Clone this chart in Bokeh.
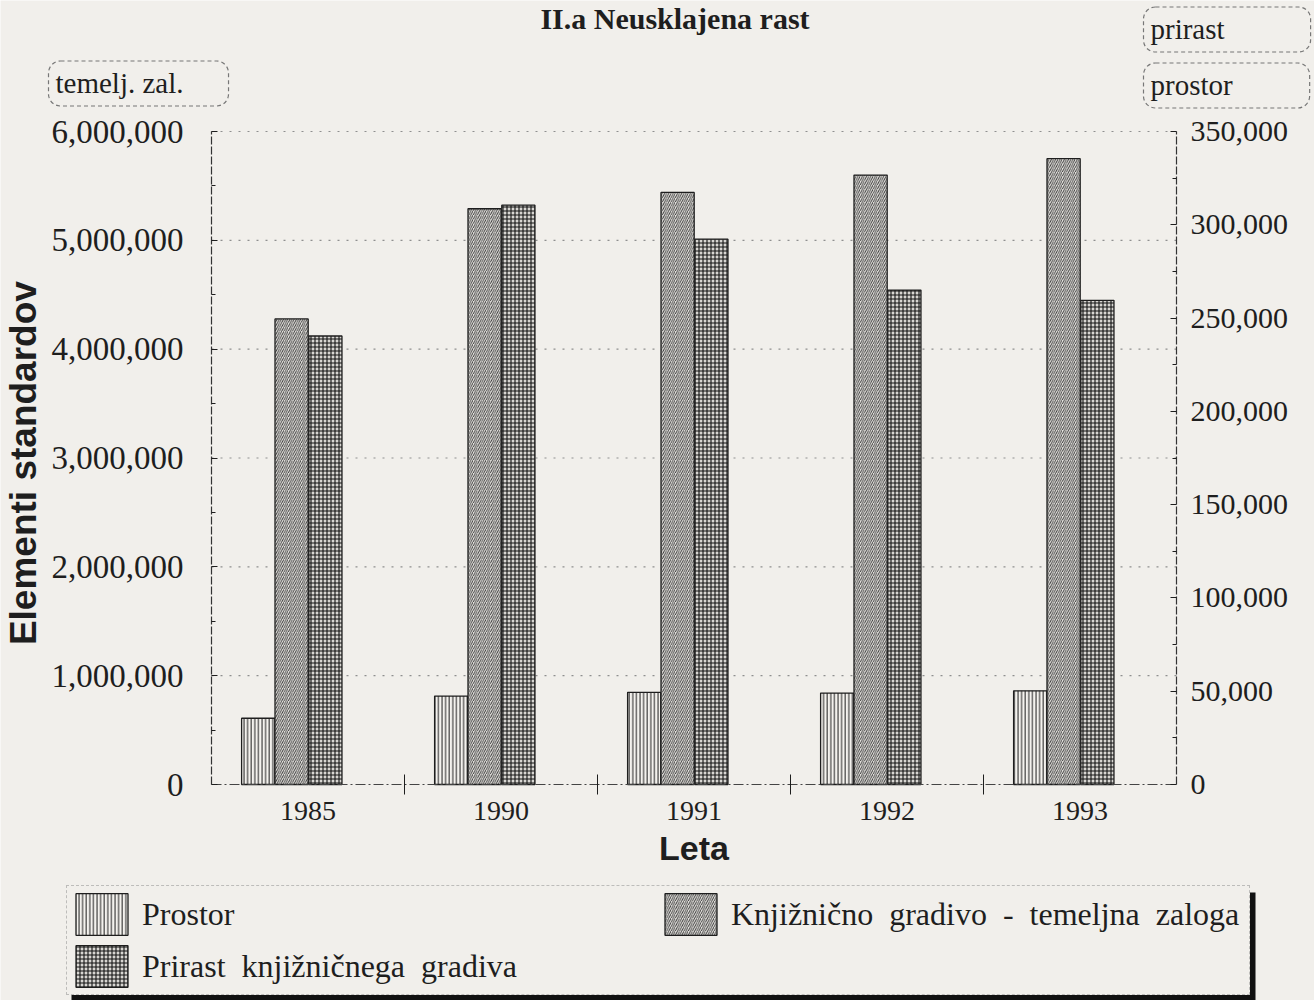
from bokeh.plotting import figure
from bokeh.models import (Range1d, LinearAxis, FixedTicker, ColumnDataSource, BoxAnnotation,
                          Legend, LegendItem, Label, NumeralTickFormatter)
from bokeh.transform import dodge
from bokeh.embed import file_html
from bokeh.resources import INLINE

# ---- data ----
years = ["1985", "1990", "1991", "1992", "1993"]
prostor = [35500, 47400, 49400, 49000, 50200]                    # right axis
temeljna_zaloga = [4278000, 5290000, 5440000, 5600000, 5750000]  # left axis
prirast = [240400, 310500, 292300, 265000, 259500]               # right axis

left_ticks = [0, 1000000, 2000000, 3000000, 4000000, 5000000, 6000000]
right_ticks = [0, 50000, 100000, 150000, 200000, 250000, 300000, 350000]

title_text = "II.a  Neusklajena  rast"
series_names = ["Prostor", "Knjižnično  gradivo  -  temeljna  zaloga", "Prirast  knjižničnega  gradiva"]

PAPER = "#f1efeb"
INK = "#1e1e1e"
SERIF = "Liberation Serif"
SANS = "Liberation Sans"

# ---- page geometry: the frame fills the page; the plotting area sits inside it ----
W, H = 1314, 1000
PX_L, PX_R, PX_T, PX_B = 211, 1176, 131, 784
ncat = len(years)
upx = (PX_R - PX_L) / ncat
ymax = left_ticks[-1]
rmax = right_ticks[-1]
ypp = (PX_B - PX_T) / ymax
rpp = (PX_B - PX_T) / rmax

xpos = [i + 0.5 for i in range(ncat)]
src = ColumnDataSource(dict(x=xpos, year=years, prostor=prostor, zaloga=temeljna_zaloga, prirast=prirast))
grid_src = ColumnDataSource(dict(y=left_ticks[1:], x0=[0] * (len(left_ticks) - 1),
                                 x1=[ncat] * (len(left_ticks) - 1)))

p = figure(width=W, height=H, output_backend="svg", toolbar_location=None,
           x_range=Range1d(-PX_L / upx, ncat + (W - PX_R) / upx),
           y_range=Range1d(-(H - PX_B) / ypp, ymax + PX_T / ypp),
           min_border=0, background_fill_color=PAPER, border_fill_color=PAPER,
           outline_line_color=None)
p.extra_y_ranges = {"right": Range1d(-(H - PX_B) / rpp, rmax + PX_T / rpp)}
p.xgrid.grid_line_color = None
p.ygrid.grid_line_color = None

# dotted grid lines at the left-axis ticks
p.segment(x0="x0", x1="x1", y0="y", y1="y", source=grid_src,
          line_color="#8f8f8f", line_dash="2 7", line_width=1.1)

bw = 0.172
r1 = p.vbar(x=dodge("x", -0.258, range=p.x_range), top="prostor", width=bw, source=src,
            y_range_name="right", fill_color="#f4f2ee", line_color=INK, line_width=1.3,
            hatch_pattern="vertical_line", hatch_color=INK, hatch_scale=3.6, hatch_weight=1.0)
r2 = p.vbar(x=dodge("x", -0.085, range=p.x_range), top="zaloga", width=bw, source=src,
            fill_color="#e9e7e3", line_color=INK, line_width=1.3,
            hatch_pattern="right_diagonal_line", hatch_color="#363636", hatch_scale=4.3, hatch_weight=0.9)
r3 = p.vbar(x=dodge("x", 0.09, range=p.x_range), top="prirast", width=bw, source=src,
            y_range_name="right", fill_color="#d8d6d2", line_color=INK, line_width=1.3,
            hatch_pattern="cross", hatch_color="#121212", hatch_scale=4.0, hatch_weight=1.1)

# ---- x axis (fixed at the zero line) ----
xa = p.xaxis[0]
xa.fixed_location = 0
xa.bounds = (0, ncat)
xa.ticker = FixedTicker(ticks=xpos, minor_ticks=[i for i in range(1, ncat)])
xa.major_label_overrides = {x: y for x, y in zip(xpos, years)}
xa.major_tick_line_color = None
xa.major_tick_in = 0
xa.major_tick_out = 0
xa.minor_tick_line_color = INK
xa.minor_tick_in = 10
xa.minor_tick_out = 10
xa.axis_line_color = "#444"
xa.axis_line_dash = "10 3 2 3"
xa.axis_line_width = 1.2
xa.major_label_text_font = SERIF
xa.major_label_text_font_size = "28px"
xa.major_label_text_color = INK
xa.major_label_standoff = 7
xa.axis_label = "Leta"
xa.axis_label_text_font = SANS
xa.axis_label_text_font_style = "bold"
xa.axis_label_text_font_size = "34px"
xa.axis_label_text_color = INK
xa.axis_label_standoff = 6

# ---- left axis ----
ya = p.yaxis[0]
ya.fixed_location = 0
ya.bounds = (0, ymax)
ya.ticker = FixedTicker(ticks=left_ticks,
                        minor_ticks=[t + (left_ticks[1] - left_ticks[0]) / 2 for t in left_ticks[:-1]])
ya.formatter = NumeralTickFormatter(format="0,0")
ya.major_tick_in = 6
ya.major_tick_out = 0
ya.minor_tick_in = 4
ya.minor_tick_out = 0
ya.major_tick_line_color = INK
ya.minor_tick_line_color = INK
ya.axis_line_color = "#333"
ya.axis_line_dash = "8 2"
ya.axis_line_width = 1.2
ya.major_label_text_font = SERIF
ya.major_label_text_font_size = "33px"
ya.major_label_text_color = INK
ya.major_label_standoff = 28
ya.axis_label = "Elementi  standardov"
ya.axis_label_text_font = SANS
ya.axis_label_text_font_style = "bold"
ya.axis_label_text_font_size = "37px"
ya.axis_label_text_color = INK
ya.axis_label_standoff = 5

# ---- right axis ----
ra = LinearAxis(y_range_name="right", fixed_location=ncat, bounds=(0, rmax),
                ticker=FixedTicker(ticks=right_ticks,
                                   minor_ticks=[t + (right_ticks[1] - right_ticks[0]) / 2 for t in right_ticks[:-1]]),
                formatter=NumeralTickFormatter(format="0,0"))
ra.major_tick_in = 6
ra.major_tick_out = 0
ra.minor_tick_in = 4
ra.minor_tick_out = 0
ra.major_tick_line_color = INK
ra.minor_tick_line_color = INK
ra.axis_line_color = "#333"
ra.axis_line_dash = "8 2"
ra.axis_line_width = 1.2
ra.major_label_text_font = SERIF
ra.major_label_text_font_size = "30px"
ra.major_label_text_color = INK
ra.major_label_standoff = 14
p.add_layout(ra, "right")

# ---- title and axis tags (screen units, origin bottom-left of page) ----
p.add_layout(Label(x=682, y=H - 1, x_units="screen", y_units="screen", text=title_text,
                   text_font=SERIF, text_font_style="bold", text_font_size="30px",
                   text_color=INK, text_align="center", text_baseline="top"))

def tag(x, y, text, right_pad):
    return Label(x=x, y=H - y, x_units="screen", y_units="screen", text=text,
                 text_font=SERIF, text_font_size="29px", text_color=INK,
                 text_align="left", text_baseline="middle",
                 padding=dict(left=7, right=right_pad, top=6, bottom=7),
                 border_line_color="#777", border_line_dash="4 3", border_line_width=1.2,
                 border_radius=12, background_fill_color=None)

p.add_layout(tag(48, 83, "temelj. zal.", 45))
p.add_layout(tag(1143, 29, "prirast", 86))
p.add_layout(tag(1143, 85, "prostor", 77))

# ---- legend with a heavy drop shadow on its right and bottom edges ----
p.add_layout(BoxAnnotation(left=71, right=1255, top=H - 892, bottom=H - 1000,
                           left_units="screen", right_units="screen",
                           top_units="screen", bottom_units="screen",
                           fill_color="#111111", fill_alpha=1, line_color=None))

legend = Legend(items=[LegendItem(label=series_names[0], renderers=[r1]),
                       LegendItem(label=series_names[2], renderers=[r3]),
                       LegendItem(label=series_names[1], renderers=[r2])],
                orientation="vertical", nrows=2, location=(66, 5),
                glyph_width=65, glyph_height=52, label_standoff=8, label_width=516,
                spacing=0, padding=2, margin=0,
                label_text_font=SERIF, label_text_font_size="32px", label_text_color=INK,
                background_fill_color=PAPER, background_fill_alpha=1,
                border_line_color="#8a8a8a", border_line_width=1.3, border_line_dash="6 3")
p.add_layout(legend, "center")

open("out.html", "w").write(file_html(p, INLINE))
